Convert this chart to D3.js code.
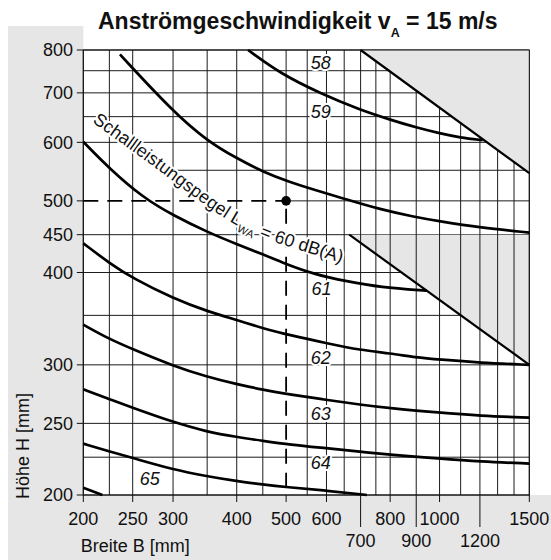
<!DOCTYPE html>
<html><head><meta charset="utf-8">
<script src="https://cdn.jsdelivr.net/npm/d3@7"></script>
<style>
body{margin:0;background:#fff}
svg{display:block}
text{font-family:Arial,"Liberation Sans",Helvetica,sans-serif;fill:#111}
</style>
</head><body>
<svg id="chart" width="551" height="560"></svg>
<script>
// ---------- data ----------
const xTicksRow1 = [200, 250, 300, 400, 500, 600, 800, 1000, 1500];
const xTicksRow2 = [700, 900, 1200];
const yTicks = [200, 250, 300, 400, 450, 500, 600, 700, 800];
const xGrid = [200,225,250,300,350,400,450,500,550,600,650,700,750,800,900,1000,1100,1200,1300,1400,1500];
const yGrid = [200,225,250,300,350,400,450,500,550,600,650,700,750,800];

// iso-lines of sound power level L_WA (B [mm], H [mm])
const curve59 = [[421,800],[486,744],[583,699],[698,664],[800,644],[902,628],[1002,617],[1097,609],[1215,604]];
const curve60 = [[236,789],[300,660],[352,601],[400,571],[451,547],[509,530],[566,518],[658,502],[764,487],[888,476],[1002,469],[1201,460],[1500,453]];
const curve61 = [[200,601],[225,553],[262,505],[300,478],[352,453],[400,437],[451,423],[498,411],[566,398],[658,389],[764,382],[944,378]];
const curve62 = [[200,438],[226,411],[250,393],[300,369],[352,354],[400,345],[451,336],[509,329],[599,321],[700,314],[800,311],[899,307],[998,305],[1199,302],[1500,300]];
const curve63 = [[200,340],[225,325],[250,315],[300,299],[350,289],[400,282.4],[450,277.6],[509,273.6],[599,269],[700,265],[800,262],[998,258.5],[1199,256],[1500,254.5]];
const curve64 = [[200,278],[225,269.5],[250,262.5],[300,251],[350,243.5],[400,239.6],[450,236.8],[509,234],[599,231.4],[700,228.8],[800,226.8],[998,224],[1199,221.9],[1500,220.6]];
const curve65 = [[200,234.7],[225,229],[250,224.5],[300,216.5],[350,212],[400,208.8],[450,206.6],[500,205],[599,202.8],[720,200]];
const curve66 = [[200,204.5],[218,200]];
const curves = [curve59, curve60, curve61, curve62, curve63, curve64, curve65, curve66];

// shaded (not permitted) zones
const zoneTop = [[700,800],[1500,800],[1500,545]];
const zoneLow = [[665,450],[1500,450],[1500,300]];

// example operating point
const opPoint = [500, 500];

// curve labels: text, B, H
const curveLabels = [["58",585,770],["59",585,661],["61",587,380],["62",585,307],["63",585,258],["64",585,221],["65",270,210.5]];
const labelPathPts = [[208,639],[283,548],[392,467],[509,433],[650,411]];

// ---------- drawing ----------
const W = 551, H = 560;
const x = d3.scaleLog().domain([200,1500]).range([83.3,529.3]);
const y = d3.scaleLog().domain([200,800]).range([495,50]);
const svg = d3.select('#chart');
const gray = '#e6e6e6';

// background panel (L-shape)
svg.append('rect').attr('x',8).attr('y',26).attr('width',x(200)-8).attr('height',H-26).attr('fill',gray);
svg.append('rect').attr('x',8).attr('y',y(200)).attr('width',W-8).attr('height',H-y(200)).attr('fill',gray);
svg.append('rect').attr('x',x(200)).attr('y',y(800)).attr('width',x(1500)-x(200)).attr('height',y(200)-y(800)).attr('fill','#fff');

const gridColor = '#1c1c1c';
// horizontal grid
yGrid.forEach(v=>{
  let x0 = 200;
  if (v===550) x0 = 300;
  if (v===500) x0 = opPoint[0];
  svg.append('line').attr('x1',x(x0)).attr('x2',x(1500)).attr('y1',y(v)).attr('y2',y(v))
     .attr('stroke',gridColor).attr('stroke-width',1);
});
const poly = pts => pts.map(p=>[x(p[0]),y(p[1])].join(',')).join(' ');
// lower zone covers horizontal lines only
svg.append('polygon').attr('points',poly(zoneLow)).attr('fill',gray);
// vertical grid
xGrid.forEach(v=>{
  let y0 = 200;
  if (v===500) y0 = opPoint[1];
  svg.append('line').attr('x1',x(v)).attr('x2',x(v)).attr('y1',y(y0)).attr('y2',y(800))
     .attr('stroke',gridColor).attr('stroke-width',1);
});
// upper zone covers all
svg.append('polygon').attr('points',poly(zoneTop)).attr('fill',gray);

// frame
svg.append('rect').attr('x',x(200)).attr('y',y(800)).attr('width',x(1500)-x(200)).attr('height',y(200)-y(800))
   .attr('fill','none').attr('stroke','#111').attr('stroke-width',1);

// zone boundary lines
[zoneTop, zoneLow].forEach(z=>{
  svg.append('line').attr('x1',x(z[0][0])).attr('y1',y(z[0][1])).attr('x2',x(z[2][0])).attr('y2',y(z[2][1]))
     .attr('stroke','#000').attr('stroke-width',2.2);
});

// curves
const line = d3.line().x(d=>x(d[0])).y(d=>y(d[1])).curve(d3.curveBasis);
curves.forEach(c=>{
  svg.append('path').attr('d',line(c)).attr('fill','none').attr('stroke','#000').attr('stroke-width',2.7).attr('stroke-linecap','butt');
});

// dashed guide lines
svg.append('line').attr('x1',x(200)).attr('x2',x(opPoint[0])).attr('y1',y(opPoint[1])).attr('y2',y(opPoint[1]))
   .attr('stroke','#000').attr('stroke-width',1.8).attr('stroke-dasharray','15,9');
svg.append('line').attr('x1',x(opPoint[0])).attr('x2',x(opPoint[0])).attr('y1',y(opPoint[1])+8).attr('y2',y(200))
   .attr('stroke','#000').attr('stroke-width',1.8).attr('stroke-dasharray','15,9');
svg.append('circle').attr('cx',x(opPoint[0])).attr('cy',y(opPoint[1])).attr('r',4.8).attr('fill','#000');

// curve number labels
curveLabels.forEach(l=>{
  svg.append('text').attr('x',x(l[1])).attr('y',y(l[2])).attr('dy','0.36em').attr('text-anchor','middle')
    .attr('font-size',18).attr('font-style','italic')
    .attr('stroke','#fff').attr('stroke-width',4).attr('paint-order','stroke').attr('stroke-linejoin','round')
    .text(l[0]);
});

// curved label
const lp = d3.line().x(d=>x(d[0])).y(d=>y(d[1])).curve(d3.curveNatural);
svg.append('defs').append('path').attr('id','lblpath').attr('d',lp(labelPathPts));
const lt = svg.append('text').attr('font-size',18)
  .attr('stroke','#fff').attr('stroke-width',4).attr('paint-order','stroke').attr('stroke-linejoin','round');
const tp = lt.append('textPath').attr('href','#lblpath').attr('startOffset',0);
tp.append('tspan').text('Schallleistungspegel L');
tp.append('tspan').attr('font-size',11).attr('dy',5).attr('dx',0.5).text('WA');
tp.append('tspan').attr('dy',-5).attr('dx',0.5).text(' = 60 dB(A)');

// axes ticks
yTicks.forEach(v=>{
  svg.append('line').attr('x1',x(200)-6.5).attr('x2',x(200)).attr('y1',y(v)).attr('y2',y(v)).attr('stroke','#111').attr('stroke-width',1);
  svg.append('text').attr('x',73).attr('y',y(v)).attr('dy','0.36em').attr('text-anchor','end').attr('font-size',18).text(v);
});
xTicksRow1.forEach(v=>{
  svg.append('line').attr('x1',x(v)).attr('x2',x(v)).attr('y1',y(200)).attr('y2',y(200)+7).attr('stroke','#111').attr('stroke-width',1);
  svg.append('text').attr('x',x(v)).attr('y',525).attr('text-anchor','middle').attr('font-size',18).text(v);
});
xTicksRow2.forEach(v=>{
  svg.append('line').attr('x1',x(v)).attr('x2',x(v)).attr('y1',y(200)).attr('y2',y(200)+32).attr('stroke','#111').attr('stroke-width',1);
  svg.append('text').attr('x',x(v)).attr('y',546.7).attr('text-anchor','middle').attr('font-size',18).text(v);
});

// axis titles
svg.append('text').attr('x',80.7).attr('y',552).attr('font-size',18).text('Breite B [mm]');
svg.append('text').attr('transform','translate(29,499) rotate(-90)').attr('font-size',18).text('Höhe H [mm]');

// title
const tt = svg.append('text').attr('x',98).attr('y',29.3).attr('font-size',23).attr('font-weight','bold');
tt.append('tspan').text('Anströmgeschwindigkeit v');
tt.append('tspan').attr('font-size',12.5).attr('dy',7.4).text('A');
tt.append('tspan').attr('dy',-7.4).text(' = 15 m/s');
</script>
</body></html>
